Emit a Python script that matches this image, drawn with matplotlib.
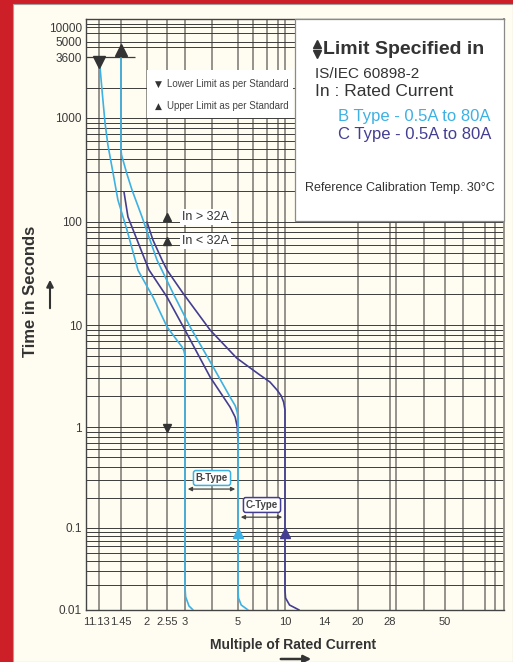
import numpy as np
import matplotlib
matplotlib.use('Agg')
import matplotlib.pyplot as plt
from matplotlib.patches import Rectangle, FancyArrowPatch
from matplotlib.lines import Line2D
from matplotlib.transforms import offset_copy
from matplotlib.ticker import FixedLocator, FixedFormatter, NullLocator

plt.rcParams['font.family'] = ['Liberation Sans', 'DejaVu Sans']

# ---------------- data ----------------
# B type curve, lower limit (1.13 In -> 3 In)
b_lower_x = [1.13, 1.143, 1.169, 1.21, 1.25, 1.325, 1.40, 1.56, 1.79, 2.15, 2.55, 2.80, 2.92, 2.97, 2.995, 3.0, 3.0, 3.02, 3.13, 3.27]
b_lower_y = [3600, 2980, 1910, 895, 550, 296, 163, 84, 34, 18.7, 9.6, 7.0, 6.1, 5.6, 5.1, 4.6, 0.019, 0.0145, 0.0112, 0.01]
# B type curve, upper limit (1.45 In -> 5 In)
b_upper_x = [1.45, 1.45, 1.46, 1.486, 1.56, 1.662, 1.88, 2.074, 2.258, 2.69, 3.17, 4.04, 4.67, 4.88, 4.96, 5.0, 5.0, 5.03, 5.2, 5.65]
b_upper_y = [3600, 492, 440, 394, 290, 203, 112, 66.8, 42.8, 20.5, 9.56, 3.88, 1.97, 1.62, 1.42, 1.25, 0.0172, 0.0140, 0.0115, 0.01]
# C type curve, lower limit (-> 5 In)
c_lower_x = [1.505, 1.58, 1.77, 1.95, 2.05, 2.55, 3.0, 3.92, 4.67, 4.88, 4.97, 5.0]
c_lower_y = [194, 112, 66.8, 42.8, 34.2, 18.7, 8.93, 3.09, 1.57, 1.25, 1.0, 0.74]
# C type curve, upper limit (-> 10 In)
c_upper_x = [2.0, 2.15, 2.40, 2.55, 2.94, 3.92, 4.94, 6.93, 8.26, 8.9, 9.45, 9.8, 10.0, 10.0, 10.05, 10.4, 11.3]
c_upper_y = [100, 66.8, 42.8, 34.2, 20.5, 8.93, 4.75, 3.23, 2.76, 2.31, 2.02, 1.75, 1.47, 0.0172, 0.0140, 0.0115, 0.01]

# limit markers from the standard
lower_limit_x = [1.13]
lower_limit_y = [3600]
upper_limit_x = [1.45]
upper_limit_y = [3600]
in_marks_x = [2.55, 2.55]
in_marks_y = [112, 65]
in_marks_text = ['In > 32A', 'In < 32A']
one_sec_x = [2.55]
one_sec_y = [1]
inst_b_x = [5]
inst_c_x = [10]
inst_y = [0.1]

# tick labels
x_ticks = [1, 1.13, 1.45, 2, 2.55, 3, 5, 10, 14, 20, 28, 50]
x_tick_labels = ['1', '1.13', '1.45', '2', '2.55', '3', '5', '10', '14', '20', '28', '50']
y_ticks = [0.01, 0.1, 1, 10, 100, 1000, 3600, 5000, 10000]
y_tick_labels = ['0.01', '0.1', '1', '10', '100', '1000', '3600', '5000', '10000']

# grid lines of the log paper
grid_x = [1.13, 1.45, 2, 2.55, 3, 4, 5, 6, 8, 9, 10, 20, 28, 30, 40, 50, 60, 80, 90]
grid_y = [m * d for d in [0.01, 0.1, 1, 10, 100] for m in range(1, 10)] + [1000, 2000, 4500, 5000, 7500, 10000, 11500]

# ---------------- scale (non-uniform log paper) ----------------
x_anchor_vals = [1, 1.13, 1.45, 2, 2.55, 3, 4, 5, 6, 8, 9, 10, 14, 20, 28, 30, 40, 50, 60, 80, 90, 100]
x_anchor_pos = [86, 99, 121, 147, 167, 185, 212, 238, 253, 267, 278, 285, 324, 358, 390, 396, 424, 445, 463, 485, 495, 504]
y_anchor_vals = [0.01, 0.1, 1, 10, 100, 1000, 2000, 3600, 5000, 10000, 15000]
y_anchor_pos = [610, 528, 427, 325, 222, 118, 88, 57, 42, 27, 19]

xa_v = np.log10(np.array(x_anchor_vals, float)); xa_p = np.array(x_anchor_pos, float)
ya_v = np.log10(np.array(y_anchor_vals, float)); ya_p = -np.array(y_anchor_pos, float)


def fx(v):
    v = np.asarray(v, float)
    return np.interp(np.log10(np.clip(v, 1e-9, None)), xa_v, xa_p)


def fxi(p):
    return 10 ** np.interp(np.asarray(p, float), xa_p, xa_v)


def fy(v):
    v = np.asarray(v, float)
    return np.interp(np.log10(np.clip(v, 1e-9, None)), ya_v, ya_p)


def fyi(p):
    return 10 ** np.interp(np.asarray(p, float), ya_p, ya_v)


# ---------------- figure ----------------
W, H = 513, 662
BLUE = '#3db1e3'
PURPLE = '#433e92'
DARK = '#333333'


def P(x, y):
    return (x / W, 1 - y / H)


fig = plt.figure(figsize=(W / 100, H / 100), dpi=100)
fig.patch.set_facecolor('#cd1f27')
fig.add_artist(Rectangle((13 / W, 0), (W - 13) / W, (H - 4) / H, transform=fig.transFigure,
                         facecolor='#fffdf1', edgecolor='#a0a0a0', lw=0.8, zorder=-1))

ax = fig.add_axes([86 / W, 1 - 610 / H, 418 / W, 591 / H])
ax.set_facecolor('#fffdf1')
ax.set_xscale('function', functions=(fx, fxi))
ax.set_yscale('function', functions=(fy, fyi))
ax.set_xlim(1, 100)
ax.set_ylim(0.01, 15000)

for v in grid_x:
    ax.axvline(v, color='#8e8a84', lw=1.3, zorder=0.5)
for v in grid_y:
    ax.axhline(v, color='#3c3c3c', lw=0.7, zorder=0.6)
ax.hlines(3600, 1, 1.72, color='#3c3c3c', lw=0.9, zorder=0.6)

ax.xaxis.set_major_locator(FixedLocator(x_ticks))
ax.xaxis.set_major_formatter(FixedFormatter(x_tick_labels))
ax.xaxis.set_minor_locator(NullLocator())
ax.yaxis.set_major_locator(FixedLocator(y_ticks))
ax.yaxis.set_major_formatter(FixedFormatter(y_tick_labels))
ax.yaxis.set_minor_locator(NullLocator())
ax.tick_params(axis='x', length=0, pad=5, labelsize=8, labelcolor='#3a3a3a')
ax.tick_params(axis='y', length=0, pad=3, labelsize=8.5, labelcolor='#3a3a3a')
for s in ['left', 'bottom', 'top']:
    ax.spines[s].set_color('#444444')
    ax.spines[s].set_linewidth(1.0)
ax.spines['right'].set_color('#8e8a84')
ax.spines['right'].set_linewidth(1.3)

# curves
kw = dict(lw=1.2, solid_joinstyle='round', solid_capstyle='round', zorder=3)
ax.plot(b_lower_x, b_lower_y, color=BLUE, **kw)
ax.plot(c_lower_x, c_lower_y, color=PURPLE, **kw)
ax.plot(c_upper_x, c_upper_y, color=PURPLE, **kw)
ax.plot(b_upper_x, b_upper_y, color=BLUE, **kw)


# markers
def off(dy):
    return offset_copy(ax.transData, fig=fig, x=0, y=dy, units='dots')


ax.plot(lower_limit_x, lower_limit_y, ls='none', marker='v', ms=9, color=DARK, transform=off(-5), zorder=5, clip_on=False)
ax.plot(upper_limit_x, upper_limit_y, ls='none', marker='^', ms=9, color=DARK, transform=off(7), zorder=5, clip_on=False)
ax.plot(in_marks_x, in_marks_y, ls='none', marker='^', ms=6, color=DARK, zorder=5)
ax.plot(one_sec_x, one_sec_y, ls='none', marker='v', ms=6, color=DARK, transform=off(-1), zorder=5)
ax.plot(inst_b_x, inst_y, ls='none', marker='^', ms=6.5, color=BLUE, transform=off(-5), zorder=5)
ax.plot(inst_c_x, inst_y, ls='none', marker='^', ms=6.5, color=PURPLE, transform=off(-5), zorder=5)

for xv, yv, t in zip(in_marks_x, in_marks_y, in_marks_text):
    ax.annotate(t, xy=(xv, yv), xytext=(11, 0), textcoords='offset points', ha='left', va='center',
                fontsize=9, color=DARK, zorder=6,
                bbox=dict(boxstyle='square,pad=0.15', fc='white', ec='none'))

# B / C type range arrows
ax.annotate('', xy=(5, 0.243), xytext=(3, 0.243),
            arrowprops=dict(arrowstyle='<|-|>', color='#444444', lw=0.9, mutation_scale=6, shrinkA=2, shrinkB=2), zorder=6)
ax.annotate('', xy=(10, 0.128), xytext=(5, 0.128),
            arrowprops=dict(arrowstyle='<|-|>', color='#444444', lw=0.9, mutation_scale=6, shrinkA=2, shrinkB=2), zorder=6)
fig.text(*P(212, 478), 'B-Type', ha='center', va='center', fontsize=7, fontweight='bold', color='#444444',
         bbox=dict(boxstyle='round,pad=0.25', fc='white', ec=BLUE, lw=1.1))
fig.text(*P(262, 505), 'C-Type', ha='center', va='center', fontsize=7, fontweight='bold', color='#444444',
         bbox=dict(boxstyle='round,pad=0.25', fc='white', ec=PURPLE, lw=1.1))

# legend boxes
ax.add_patch(Rectangle((0.5, (610 - 221) / 591), 0.5, 1 - (610 - 221) / 591, transform=ax.transAxes,
                       fc='white', ec='#8a8a8a', lw=0.9, zorder=4, clip_on=False))
ax.add_patch(Rectangle(((147 - 86) / 418, (610 - 118) / 591), (293 - 147) / 418, 48 / 591, transform=ax.transAxes,
                       fc='white', ec='none', zorder=4, clip_on=False))

fig.text(*P(155, 84), '▼', ha='left', va='center', fontsize=6.5, color=DARK, family=['DejaVu Sans'])
fig.text(*P(167, 84), 'Lower Limit as per Standard', ha='left', va='center', fontsize=7, color='#444444')
fig.text(*P(155, 106), '▲', ha='left', va='center', fontsize=6.5, color=DARK, family=['DejaVu Sans'])
fig.text(*P(167, 106), 'Upper Limit as per Standard', ha='left', va='center', fontsize=7, color='#444444')

fig.add_artist(Line2D([317 / W], [1 - 43.5 / H], marker='^', ms=6, color=DARK, ls='none', transform=fig.transFigure))
fig.add_artist(Line2D([317 / W], [1 - 53.5 / H], marker='v', ms=6, color=DARK, ls='none', transform=fig.transFigure))
fig.text(*P(323, 49), 'Limit Specified in', ha='left', va='center', fontsize=14, fontweight='bold', color=DARK)
fig.text(*P(315, 74), 'IS/IEC 60898-2', ha='left', va='center', fontsize=11, color=DARK)
fig.text(*P(315, 92), 'In : Rated Current', ha='left', va='center', fontsize=12.5, color=DARK)
fig.text(*P(338, 116), 'B Type - 0.5A to 80A', ha='left', va='center', fontsize=12, color=BLUE)
fig.text(*P(338, 135), 'C Type - 0.5A to 80A', ha='left', va='center', fontsize=12, color=PURPLE)
fig.text(*P(305, 188), 'Reference Calibration Temp. 30°C', ha='left', va='center', fontsize=9, color=DARK)

# axis titles
fig.text(*P(293, 645), 'Multiple of Rated Current', ha='center', va='center', fontsize=10, fontweight='bold', color=DARK)
fig.add_artist(FancyArrowPatch(P(278, 659), P(314, 659), transform=fig.transFigure,
                               arrowstyle='-|>', mutation_scale=11, color=DARK, lw=1.8))
fig.text(*P(31, 291), 'Time in Seconds', ha='center', va='center', rotation=90, fontsize=12, fontweight='bold', color=DARK)
fig.add_artist(FancyArrowPatch(P(50, 311), P(50, 277), transform=fig.transFigure,
                               arrowstyle='-|>', mutation_scale=10, color=DARK, lw=1.5))

fig.savefig('out.png', dpi=100, facecolor=fig.get_facecolor())
